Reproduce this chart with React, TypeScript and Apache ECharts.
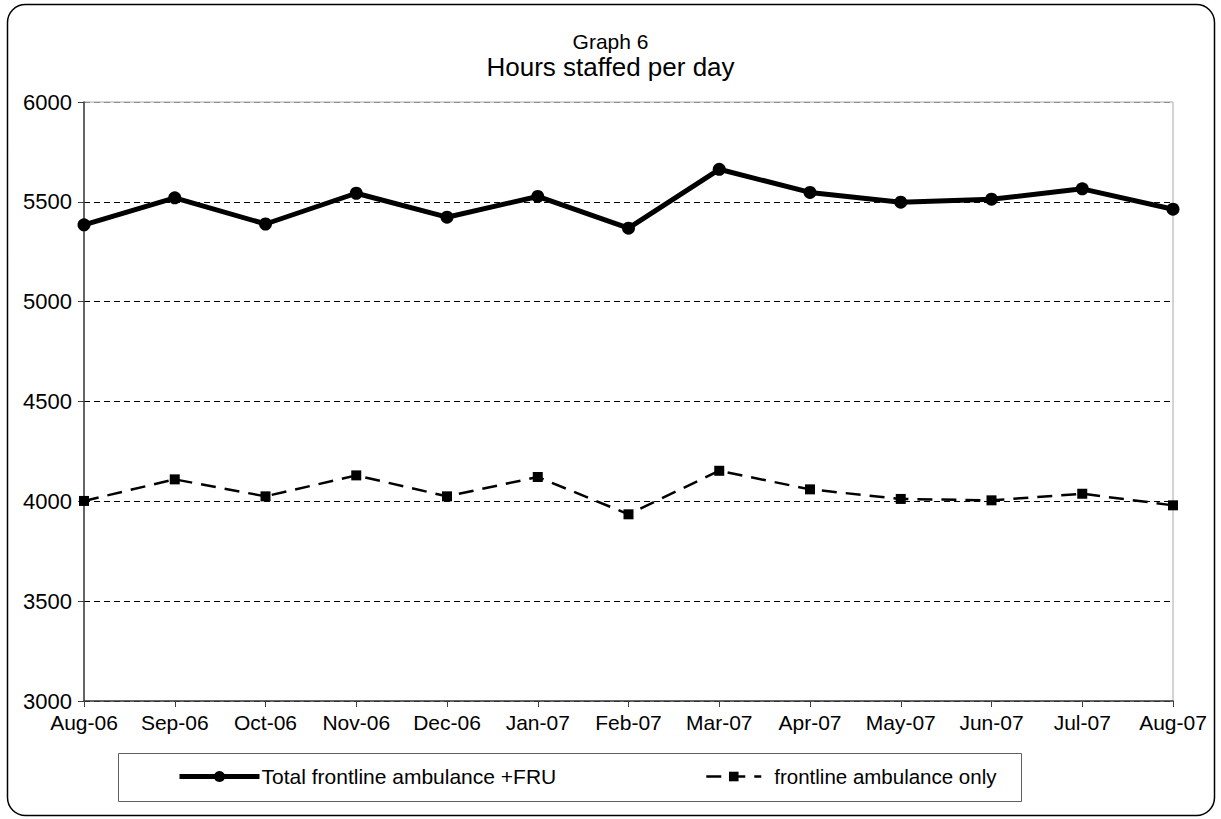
import React, { useEffect, useRef } from "react";
import * as echarts from "echarts";

const categories = [
  "Aug-06", "Sep-06", "Oct-06", "Nov-06", "Dec-06", "Jan-07", "Feb-07",
  "Mar-07", "Apr-07", "May-07", "Jun-07", "Jul-07", "Aug-07",
];
const totalFrontlineFRU = [5385, 5520, 5389, 5543, 5423, 5527, 5368, 5663, 5547, 5498, 5513, 5565, 5463];
const frontlineOnly = [4002, 4110, 4025, 4130, 4025, 4122, 3935, 4153, 4060, 4012, 4005, 4038, 3980];
const seriesNames = ["Total frontline ambulance +FRU", "frontline ambulance only"];

const FONT = "'Liberation Sans', Arial, sans-serif";

export default function App() {
  const ref = useRef<HTMLDivElement>(null);
  useEffect(() => {
    document.body.style.margin = "0";
    const chart = echarts.init(ref.current!, null, { renderer: "svg" });
    chart.setOption({
      animation: false,
      backgroundColor: "#fff",
      textStyle: { fontFamily: FONT },
      title: [
        {
          text: "Graph 6",
          left: "center",
          top: 26,
          textStyle: { fontSize: 21, fontWeight: "normal", color: "#000", fontFamily: FONT },
        },
        {
          text: "Hours staffed per day",
          left: "center",
          top: 49,
          textStyle: { fontSize: 26, fontWeight: "normal", color: "#000", fontFamily: FONT },
        },
      ],
      grid: {
        left: 84,
        right: 48,
        top: 102,
        bottom: 118,
        show: true,
        borderColor: "#a8a8a8",
        borderWidth: 1,
        backgroundColor: "transparent",
      },
      legend: [
        {
          data: [seriesNames[0]],
          left: 177,
          top: 766,
          itemWidth: 80,
          itemHeight: 14,
          itemGap: 0,
          padding: 0,
          lineStyle: { width: 5 },
          textStyle: { fontSize: 21, color: "#000", fontFamily: FONT, padding: [0, 0, 0, -3] },
        },
        {
          data: [seriesNames[1]],
          left: 705,
          top: 766,
          itemWidth: 55,
          itemHeight: 12,
          itemGap: 0,
          padding: 0,
          lineStyle: { width: 2.5 },
          textStyle: { fontSize: 20.5, color: "#000", fontFamily: FONT, padding: [0, 0, 0, 8] },
        },
      ],
      xAxis: {
        type: "category",
        data: categories,
        boundaryGap: false,
        axisLine: { lineStyle: { color: "#404040", width: 1.5 } },
        axisTick: { show: true, length: 6, alignWithLabel: true, interval: 0, lineStyle: { color: "#404040" } },
        axisLabel: { fontSize: 21, color: "#000", margin: 11, interval: 0, hideOverlap: false, fontFamily: FONT },
        splitLine: { show: false },
      },
      yAxis: {
        type: "value",
        min: 3000,
        max: 6000,
        interval: 500,
        axisLine: { show: true, lineStyle: { color: "#404040", width: 1.5 } },
        axisTick: { show: true, length: 6, lineStyle: { color: "#404040" } },
        axisLabel: {
          fontSize: 22,
          color: "#000",
          margin: 12,
          fontFamily: FONT,
          formatter: (v: number) => String(v),
        },
        splitLine: {
          show: true,
          lineStyle: {
            color: ["#000", "#000", "#000", "#000", "#000", "#000", "#909090"],
            type: [6, 4],
            width: 1,
          },
        },
      },
      series: [
        {
          name: seriesNames[0],
          type: "line",
          data: totalFrontlineFRU,
          symbol: "circle",
          symbolSize: 13,
          itemStyle: { color: "#000" },
          lineStyle: { color: "#000", width: 5 },
          z: 3,
        },
        {
          name: seriesNames[1],
          type: "line",
          data: frontlineOnly,
          symbol: "rect",
          symbolSize: 10,
          itemStyle: { color: "#000" },
          lineStyle: { color: "#000", width: 2.5, type: [15, 9] },
          z: 2,
        },
      ],
      graphic: [
        {
          type: "rect",
          shape: { x: 7.5, y: 4.5, width: 1207, height: 811, r: 18 },
          style: { fill: "none", stroke: "#000", lineWidth: 1.5 },
          silent: true,
        },
        {
          type: "rect",
          shape: { x: 118.5, y: 753.5, width: 903, height: 48 },
          style: { fill: "none", stroke: "#606060", lineWidth: 1 },
          silent: true,
        },
      ],
    });
    return () => chart.dispose();
  }, []);
  return <div ref={ref} style={{ width: 1221, height: 819 }} />;
}
